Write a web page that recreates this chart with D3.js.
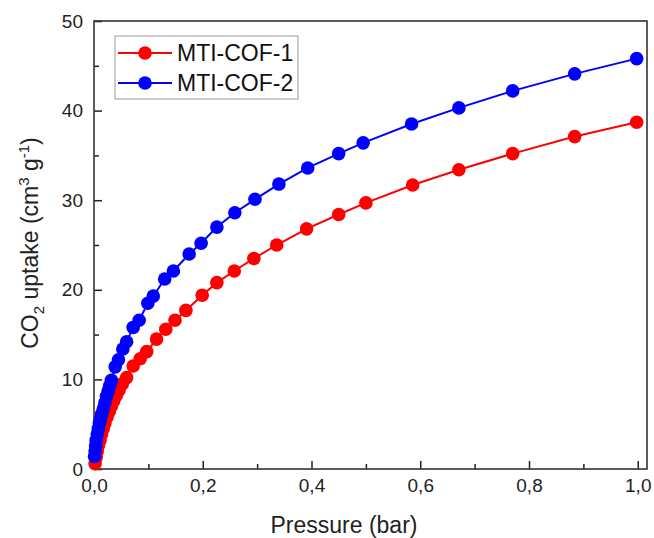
<!DOCTYPE html>
<html>
<head>
<meta charset="utf-8">
<script src="https://cdn.jsdelivr.net/npm/d3@7"></script>
<style>
  body { margin: 0; background: #fff; }
  svg { font-family: "Liberation Sans", Arial, sans-serif; }
</style>
</head>
<body>
<div id="chart"></div>
<script>
// CO2 isotherms
var seriesNames = ["MTI-COF-1", "MTI-COF-2"];
var seriesColors = ["#ff0000", "#0000ff"];

var cof1Pressure = [0.002, 0.004, 0.006, 0.008, 0.011, 0.014, 0.017, 0.020, 0.024, 0.028, 0.032, 0.036, 0.041, 0.046, 0.052, 0.060, 0.072, 0.085, 0.097, 0.115, 0.132, 0.149, 0.169, 0.199, 0.226, 0.258, 0.294, 0.336, 0.391, 0.450, 0.500, 0.586, 0.671, 0.770, 0.884, 0.998];
var cof1Uptake = [0.6, 1.3, 2.0, 2.6, 3.2, 3.9, 4.5, 5.1, 5.8, 6.4, 7.0, 7.6, 8.2, 8.8, 9.5, 10.2, 11.5, 12.3, 13.1, 14.5, 15.6, 16.6, 17.7, 19.4, 20.8, 22.1, 23.5, 25.0, 26.8, 28.4, 29.7, 31.7, 33.4, 35.2, 37.1, 38.7];

var cof2Pressure = [0.001, 0.002, 0.003, 0.004, 0.006, 0.008, 0.010, 0.012, 0.014, 0.017, 0.020, 0.023, 0.026, 0.029, 0.032, 0.039, 0.045, 0.053, 0.060, 0.072, 0.083, 0.099, 0.109, 0.130, 0.146, 0.175, 0.197, 0.226, 0.259, 0.296, 0.340, 0.393, 0.450, 0.495, 0.584, 0.671, 0.770, 0.884, 0.998];
var cof2Uptake = [1.4, 2.0, 2.6, 3.2, 3.9, 4.5, 5.1, 5.6, 6.1, 6.7, 7.4, 8.1, 8.7, 9.3, 9.9, 11.4, 12.2, 13.4, 14.2, 15.8, 16.6, 18.5, 19.3, 21.2, 22.1, 24.0, 25.2, 27.0, 28.6, 30.1, 31.8, 33.6, 35.2, 36.4, 38.5, 40.3, 42.2, 44.1, 45.8];

var xTicks = [0, 0.2, 0.4, 0.6, 0.8, 1.0];
var xMinorTicks = [0.1, 0.3, 0.5, 0.7, 0.9];
var yTicks = [0, 10, 20, 30, 40, 50];
var yMinorTicks = [5, 15, 25, 35, 45];

var width = 654, height = 538;
var plotLeft = 94, plotRight = 647, plotTop = 21, plotBottom = 469;

var svg = d3.select("#chart")
    .append("svg")
    .attr("width", width)
    .attr("height", height);

var x = d3.scaleLinear().domain([0, 1.017]).range([plotLeft, plotRight]);
var y = d3.scaleLinear().domain([0, 50]).range([plotBottom, plotTop]);

var comma = d3.formatLocale({decimal: ",", thousands: ".", grouping: [3], currency: ["", ""]});

// axes, ticks inside
svg.append("g")
    .attr("transform", "translate(0," + plotBottom + ")")
    .call(d3.axisBottom(x).tickValues(xTicks).tickSize(-8).tickPadding(10).tickFormat(comma.format(".1f")));
svg.append("g")
    .attr("transform", "translate(0," + plotBottom + ")")
    .call(d3.axisBottom(x).tickValues(xMinorTicks).tickSize(-5).tickFormat(""));

svg.append("g")
    .attr("transform", "translate(" + plotLeft + ",0)")
    .call(d3.axisLeft(y).tickValues(yTicks).tickSize(-8).tickPadding(11).tickFormat(d3.format("d")));
svg.append("g")
    .attr("transform", "translate(" + plotLeft + ",0)")
    .call(d3.axisLeft(y).tickValues(yMinorTicks).tickSize(-5).tickFormat(""));

svg.selectAll(".domain").remove();
svg.selectAll(".tick line").attr("stroke", "#222").attr("stroke-width", 1.5);
svg.selectAll(".tick text").attr("font-size", 19).attr("fill", "#222");

// frame
svg.append("rect")
    .attr("x", plotLeft)
    .attr("y", plotTop)
    .attr("width", plotRight - plotLeft)
    .attr("height", plotBottom - plotTop)
    .attr("fill", "none")
    .attr("stroke", "#333")
    .attr("stroke-width", 1.6);

var series = [
    {name: seriesNames[0], color: seriesColors[0], px: cof1Pressure, py: cof1Uptake},
    {name: seriesNames[1], color: seriesColors[1], px: cof2Pressure, py: cof2Uptake}
];

var line = d3.line()
    .x(function(d) { return x(d[0]); })
    .y(function(d) { return y(d[1]); });

series.forEach(function(s) {
    var pts = s.px.map(function(p, i) { return [p, s.py[i]]; });
    svg.append("path")
        .datum(pts)
        .attr("d", line)
        .attr("fill", "none")
        .attr("stroke", s.color)
        .attr("stroke-width", 2);
    svg.append("g").selectAll("circle")
        .data(pts)
        .enter().append("circle")
        .attr("cx", function(d) { return x(d[0]); })
        .attr("cy", function(d) { return y(d[1]); })
        .attr("r", 6.8)
        .attr("fill", s.color);
});

// legend
var legend = svg.append("g");
legend.append("rect")
    .attr("x", 115)
    .attr("y", 36)
    .attr("width", 183)
    .attr("height", 63)
    .attr("fill", "#fff")
    .attr("stroke", "#999")
    .attr("stroke-width", 1);

series.forEach(function(s, i) {
    var ly = 53 + i * 30;
    legend.append("line")
        .attr("x1", 118).attr("x2", 172)
        .attr("y1", ly).attr("y2", ly)
        .attr("stroke", s.color)
        .attr("stroke-width", 2);
    legend.append("circle")
        .attr("cx", 145).attr("cy", ly)
        .attr("r", 6.8)
        .attr("fill", s.color);
    legend.append("text")
        .attr("x", 177)
        .attr("y", ly + 8)
        .attr("font-size", 23)
        .attr("fill", "#111")
        .text(s.name);
});

// axis titles
svg.append("text")
    .attr("x", 344)
    .attr("y", 533)
    .attr("text-anchor", "middle")
    .attr("font-size", 23)
    .attr("fill", "#222")
    .text("Pressure (bar)");

var yTitle = svg.append("text")
    .attr("transform", "translate(38,243) rotate(-90)")
    .attr("text-anchor", "middle")
    .attr("font-size", 23)
    .attr("fill", "#222");
yTitle.append("tspan").text("CO");
yTitle.append("tspan").attr("font-size", 15).attr("dy", 6).text("2");
yTitle.append("tspan").attr("dy", -6).text(" uptake (cm");
yTitle.append("tspan").attr("font-size", 15).attr("dy", -9).text("3");
yTitle.append("tspan").attr("dy", 9).text(" g");
yTitle.append("tspan").attr("font-size", 15).attr("dy", -9).text("-1");
yTitle.append("tspan").attr("dy", 9).text(")");
</script>
</body>
</html>
